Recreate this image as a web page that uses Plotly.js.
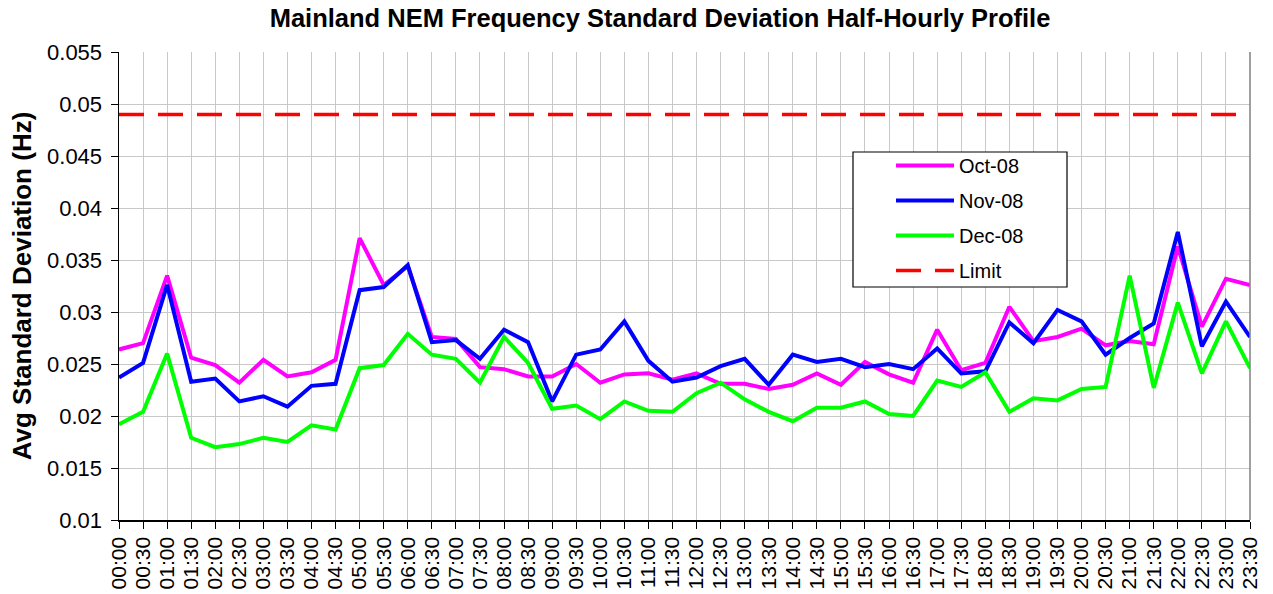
<!DOCTYPE html>
<html>
<head>
<meta charset="utf-8">
<script src="https://cdn.plot.ly/plotly-3.0.1.min.js"></script>
<style>
  html, body { margin: 0; padding: 0; background: #ffffff; }
  #chart { width: 1273px; height: 594px; }
</style>
</head>
<body>
<div id="chart"></div>
<script>
const timeLabels = [
  "00:00","00:30","01:00","01:30","02:00","02:30","03:00","03:30",
  "04:00","04:30","05:00","05:30","06:00","06:30","07:00","07:30",
  "08:00","08:30","09:00","09:30","10:00","10:30","11:00","11:30",
  "12:00","12:30","13:00","13:30","14:00","14:30","15:00","15:30",
  "16:00","16:30","17:00","17:30","18:00","18:30","19:00","19:30",
  "20:00","20:30","21:00","21:30","22:00","22:30","23:00","23:30"
];

const oct08 = [
  0.0264, 0.0270, 0.0335, 0.0256, 0.0249, 0.0232, 0.0254, 0.0238,
  0.0242, 0.0254, 0.0371, 0.0326, 0.0344, 0.0276, 0.0274, 0.0247,
  0.0245, 0.0238, 0.0238, 0.0250, 0.0232, 0.0240, 0.0241, 0.0235,
  0.0241, 0.0231, 0.0231, 0.0226, 0.0230, 0.0241, 0.0230, 0.0252,
  0.0240, 0.0232, 0.0283, 0.0244, 0.0251, 0.0305, 0.0272, 0.0276,
  0.0284, 0.0268, 0.0272, 0.0269, 0.0363, 0.0286, 0.0332, 0.0326
];

const nov08 = [
  0.0237, 0.0251, 0.0326, 0.0233, 0.0236, 0.0214, 0.0219, 0.0209,
  0.0229, 0.0231, 0.0321, 0.0324, 0.0345, 0.0271, 0.0273, 0.0255,
  0.0283, 0.0271, 0.0214, 0.0259, 0.0264, 0.0291, 0.0253, 0.0233,
  0.0237, 0.0248, 0.0255, 0.0230, 0.0259, 0.0252, 0.0255, 0.0247,
  0.0250, 0.0245, 0.0265, 0.0241, 0.0243, 0.0290, 0.0270, 0.0302,
  0.0291, 0.0259, 0.0275, 0.0289, 0.0377, 0.0267, 0.0310, 0.0276
];

const dec08 = [
  0.0192, 0.0204, 0.0260, 0.0179, 0.0170, 0.0173, 0.0179, 0.0175,
  0.0191, 0.0187, 0.0246, 0.0249, 0.0279, 0.0259, 0.0255, 0.0232,
  0.0276, 0.0251, 0.0207, 0.0210, 0.0197, 0.0214, 0.0205, 0.0204,
  0.0222, 0.0232, 0.0216, 0.0204, 0.0195, 0.0208, 0.0208, 0.0214,
  0.0202, 0.0200, 0.0234, 0.0228, 0.0242, 0.0204, 0.0217, 0.0215,
  0.0226, 0.0228, 0.0335, 0.0227, 0.0309, 0.0241, 0.0291, 0.0246
];

const limitValue = 0.049;
const limitSeries = timeLabels.map(() => limitValue);

const seriesNames = ["Oct-08", "Nov-08", "Dec-08", "Limit"];
const yTickVals = [0.01, 0.015, 0.02, 0.025, 0.03, 0.035, 0.04, 0.045, 0.05, 0.055];
const yTickText = ["0.01", "0.015", "0.02", "0.025", "0.03", "0.035", "0.04", "0.045", "0.05", "0.055"];

const FONT = "Arial, 'Liberation Sans', Helvetica, sans-serif";

function lineTrace(name, y, color, dash, width, group) {
  return {
    type: "scatter",
    mode: "lines",
    name: name,
    x: timeLabels,
    y: y,
    legendgroup: group,
    line: { color: color, width: width, dash: dash },
    hoverinfo: "x+y+name"
  };
}

const traces = [
  lineTrace(seriesNames[0], oct08, "#ff00ff", "solid", 4, "g1"),
  lineTrace(seriesNames[1], nov08, "#0000ff", "solid", 4, "g2"),
  lineTrace(seriesNames[2], dec08, "#00ff00", "solid", 4, "g3"),
  lineTrace(seriesNames[3], limitSeries, "#ff0000", "25px,14px", 3.5, "g4")
];

// plot-area pixel helpers for placing the legend frame (layout only)
const PL = 119, PT = 52, PW = 1131, PH = 468;
const px = v => (v - PL) / PW;
const py = v => 1 - (v - PT) / PH;

const layout = {
  width: 1273,
  height: 594,
  margin: { l: 119, r: 23, t: 52, b: 74, pad: 0 },
  paper_bgcolor: "#ffffff",
  plot_bgcolor: "#ffffff",
  font: { family: FONT, color: "#000000", size: 20 },
  showlegend: true,
  title: {
    text: "<b>Mainland NEM Frequency Standard Deviation Half-Hourly Profile</b>",
    font: { family: FONT, size: 25.5, color: "#000000" },
    x: 660 / 1273,
    xanchor: "center",
    xref: "container",
    y: 1 - 18 / 594,
    yanchor: "middle",
    yref: "container"
  },
  xaxis: {
    type: "category",
    range: [0, timeLabels.length - 1],
    tickmode: "linear",
    tick0: 0,
    dtick: 1,
    tickangle: -90,
    tickfont: { family: FONT, size: 21, color: "#000000" },
    showgrid: true,
    gridcolor: "#c8c8c8",
    gridwidth: 1,
    ticks: "outside",
    ticklen: 7,
    tickwidth: 1,
    tickcolor: "#000000",
    showline: true,
    linecolor: "#000000",
    linewidth: 1.5,
    zeroline: false,
    automargin: false,
    fixedrange: true
  },
  yaxis: {
    range: [0.01, 0.055],
    tickmode: "array",
    tickvals: yTickVals,
    ticktext: yTickText,
    tickfont: { family: FONT, size: 22, color: "#000000" },
    ticklabelstandoff: 4,
    showgrid: true,
    gridcolor: "#c8c8c8",
    gridwidth: 1,
    ticks: "outside",
    ticklen: 7,
    tickwidth: 1,
    tickcolor: "#000000",
    showline: true,
    linecolor: "#000000",
    linewidth: 1.5,
    zeroline: false,
    automargin: false,
    fixedrange: true,
    title: {
      text: "<b>Avg Standard Deviation (Hz)</b>",
      font: { family: FONT, size: 26, color: "#000000" },
      standoff: 8
    }
  },
  legend: {
    x: px(891),
    y: py(146),
    xanchor: "left",
    yanchor: "top",
    bgcolor: "rgba(0,0,0,0)",
    borderwidth: 0,
    font: { family: FONT, size: 20, color: "#000000" },
    traceorder: "grouped",
    tracegroupgap: 6,
    itemwidth: 58
  },
  shapes: [
    {
      type: "line", xref: "paper", yref: "paper",
      x0: 1, x1: 1, y0: 0, y1: 1,
      line: { color: "#808080", width: 1.5 }
    },
    {
      type: "rect", xref: "paper", yref: "paper", layer: "above",
      x0: px(853), x1: px(1067), y0: py(287), y1: py(152),
      fillcolor: "#ffffff",
      line: { color: "#000000", width: 1.2 }
    }
  ]
};

Plotly.newPlot("chart", traces, layout, { displayModeBar: false, staticPlot: true });
</script>
</body>
</html>
